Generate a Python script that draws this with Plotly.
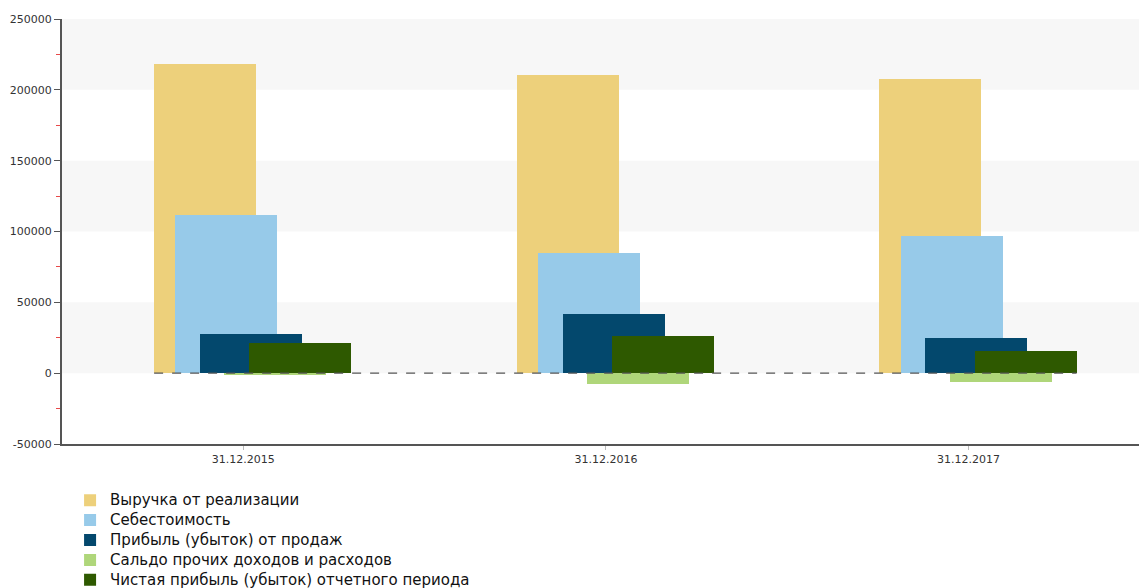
import plotly.graph_objects as go

# Reporting dates
periods = ["31.12.2015", "31.12.2016", "31.12.2017"]

# Financial indicators, thousand rubles
revenue = [218500, 210500, 207500]
cost_of_sales = [111500, 84500, 96500]
sales_profit = [27500, 41500, 25000]
other_balance = [-1200, -7600, -6000]
net_profit = [21000, 26500, 15500]

series_names = [
    "Выручка от реализации",
    "Себестоимость",
    "Прибыль (убыток) от продаж",
    "Сальдо прочих доходов и расходов",
    "Чистая прибыль (убыток) отчетного периода",
]

# Y-axis tick labels
y_tick_values = [-50000, 0, 50000, 100000, 150000, 200000, 250000]
y_tick_labels = ["-50000", "0", "50000", "100000", "150000", "200000", "250000"]

colors = ["#EDD07B", "#97CAE9", "#03486D", "#AFD67A", "#2E5900"]
offsets = [-0.246, -0.1875, -0.119, -0.0524, 0.0166]
bar_width = 0.2813

fig = go.Figure()
for name, values, color, off in zip(
    series_names,
    [revenue, cost_of_sales, sales_profit, other_balance, net_profit],
    colors,
    offsets,
):
    fig.add_trace(
        go.Bar(
            x=periods,
            y=values,
            # larger legend text while keeping the compact row spacing
            name=f'<span style="font-size:15px">{name}</span>',
            marker=dict(color=color, line=dict(width=0)),
            width=bar_width,
            offset=off,
        )
    )

# Alternating horizontal bands behind the bars
shapes = []
for y0 in (0, 100000, 200000):
    shapes.append(
        dict(
            type="rect", xref="paper", yref="y", x0=0, x1=1, y0=y0, y1=y0 + 50000,
            fillcolor="#F7F7F7", line=dict(width=0), layer="below",
        )
    )
# Dashed zero line drawn over the bars
shapes.append(
    dict(
        type="line", xref="x", yref="y",
        x0=offsets[0], x1=len(periods) - 1 + offsets[-1] + bar_width,
        y0=0, y1=0,
        line=dict(color="#555555", width=1.3, dash="dash"), layer="above",
    )
)

fig.update_layout(
    width=1139,
    height=588,
    margin=dict(l=62, r=0, t=19, b=144, autoexpand=False),
    barmode="overlay",
    plot_bgcolor="white",
    paper_bgcolor="white",
    font=dict(family="DejaVu Sans", color="#333333", size=11),
    shapes=shapes,
    showlegend=True,
    legend=dict(
        orientation="v",
        x=0.0075, xanchor="left",
        y=-0.097, yanchor="top",
        font=dict(size=13, color="#111111"),
        bgcolor="rgba(0,0,0,0)",
        itemclick=False,
    ),
    bargap=0,
)

fig.update_xaxes(
    type="category",
    range=[-0.5, 2.47],
    showline=True, linecolor="#555555", linewidth=2,
    ticks="outside", ticklen=4, tickcolor="#BBBBBB", tickwidth=1,
    showgrid=False, zeroline=False,
    tickfont=dict(size=11, color="#333333"),
)

fig.update_yaxes(
    range=[-50000, 250000],
    tickvals=y_tick_values,
    ticktext=y_tick_labels,
    showline=True, linecolor="#555555", linewidth=2,
    ticks="outside", ticklen=6, tickcolor="#555555", tickwidth=1,
    minor=dict(ticks="outside", ticklen=4, tickcolor="#E84A4A", tickwidth=1,
               dtick=25000, tick0=0, showgrid=False),
    showgrid=False, zeroline=False,
    tickfont=dict(size=11, color="#333333"),
)

fig.write_html("out.html")
